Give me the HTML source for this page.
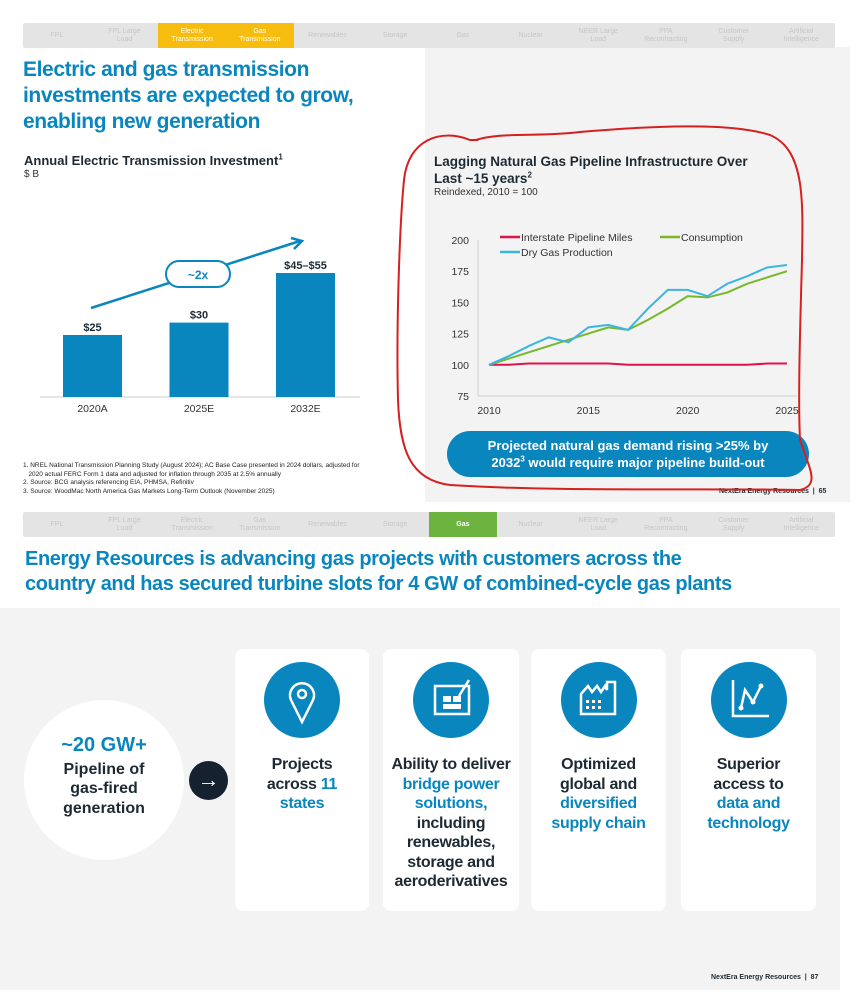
<!DOCTYPE html>
<html><head><meta charset="utf-8">
<style>
body{margin:0;width:859px;height:998px;background:#fff;font-family:"Liberation Sans",sans-serif;position:relative;overflow:hidden}
.abs{position:absolute}
sup{line-height:0}
.nav{position:absolute;left:23px;width:812px;height:25px;background:#e4e4e4;display:flex;border-radius:2px}
.nav div{flex:1;font-size:7px;color:#c6c6c6;text-align:center;display:flex;align-items:center;justify-content:center;line-height:8px}
.h{color:#0a86bf;font-weight:bold;letter-spacing:-0.4px}
.card{position:absolute;top:649px;height:262px;background:#fff;border-radius:8px;text-align:center;font-weight:bold;font-size:16px;line-height:19.5px;color:#1d2a33;letter-spacing:-0.3px}
.card .ic{width:76px;height:76px;border-radius:50%;background:#0a86bf;margin:13px auto 0}
.card p{margin:17px 0 0}
.b{color:#0a86bf}
</style></head><body>
<div class="abs" style="left:425px;top:47px;width:425px;height:455px;background:#f3f3f3"></div>
<div class="nav" style="top:23px">
<div>FPL</div><div>FPL Large<br>Load</div><div style="background:#f6bd0f;color:#fff">Electric<br>Transmission</div><div style="background:#f6bd0f;color:#fff">Gas<br>Transmission</div><div>Renewables</div><div>Storage</div><div>Gas</div><div>Nuclear</div><div>NEER Large<br>Load</div><div>PPA<br>Recontracting</div><div>Customer<br>Supply</div><div>Artificial<br>Intelligence</div>
</div>
<div class="abs h" style="left:23px;top:57px;font-size:21px;line-height:26px">Electric and gas transmission<br>investments are expected to grow,<br>enabling new generation</div>
<div class="abs" style="left:24px;top:153px;font-size:13px;font-weight:bold;color:#1d2a33">Annual Electric Transmission Investment<sup style="font-size:8px">1</sup></div>
<div class="abs" style="left:24px;top:169px;font-size:10px;color:#333">$ B</div>
<svg class="abs" style="left:0;top:0" width="425" height="430" id="bars"></svg>
<div class="abs" style="left:23px;top:462px;font-size:6.5px;line-height:8.5px;color:#222">1. NREL National Transmission Planning Study (August 2024); AC Base Case presented in 2024 dollars, adjusted for<br>&nbsp;&nbsp;&nbsp;2020 actual FERC Form 1 data and adjusted for inflation through 2035 at 2.5% annually<br>2. Source: BCG analysis referencing EIA, PHMSA, Refinitiv<br>3. Source: WoodMac North America Gas Markets Long-Term Outlook (November 2025)</div>
<div class="abs" style="left:434px;top:153px;font-size:13.5px;line-height:17px;font-weight:bold;color:#1d2a33">Lagging Natural Gas Pipeline Infrastructure Over<br>Last ~15 years<sup style="font-size:8px">2</sup></div>
<div class="abs" style="left:434px;top:187px;font-size:10px;color:#333">Reindexed, 2010 = 100</div>
<svg class="abs" style="left:425px;top:200px" width="425" height="230" id="lines"></svg>
<div class="abs" style="left:447px;top:431px;width:362px;height:46px;border-radius:23px;background:#0a86bf;color:#fff;font-weight:bold;font-size:13px;line-height:17px;text-align:center;padding-top:6px;box-sizing:border-box">Projected natural gas demand rising &gt;25% by<br>2032<sup style="font-size:8px">3</sup> would require major pipeline build-out</div>
<div class="abs" style="left:719px;top:488px;font-size:7px;font-weight:bold;color:#1d2a33">NextEra Energy Resources &nbsp;| &nbsp;65</div>
<svg class="abs" style="left:0;top:0" width="859" height="520">
<path d="M476,140 C500,132 540,137 580,132 C650,126 730,122 770,135 C805,150 803,200 802,260 C800,330 798,400 800,440 C810,470 820,485 800,490 C700,488 560,492 450,485 C410,480 400,450 398,400 C396,320 400,220 404,180 C408,140 440,128 470,140 L478,140" fill="none" stroke="#d81f1f" stroke-width="2"/>
</svg>
<div class="nav" style="top:512px">
<div>FPL</div><div>FPL Large<br>Load</div><div>Electric<br>Transmission</div><div>Gas<br>Transmission</div><div>Renewables</div><div>Storage</div><div style="background:#6db33f;color:#fff;font-weight:bold">Gas</div><div>Nuclear</div><div>NEER Large<br>Load</div><div>PPA<br>Recontracting</div><div>Customer<br>Supply</div><div>Artificial<br>Intelligence</div>
</div>
<div class="abs h" style="left:25px;top:547px;font-size:20px;line-height:25px">Energy Resources is advancing gas projects with customers across the<br>country and has secured turbine slots for 4 GW of combined-cycle gas plants</div>
<div class="abs" style="left:0;top:608px;width:840px;height:382px;background:#f3f3f3"></div>
<div class="abs" style="left:24px;top:700px;width:160px;height:160px;border-radius:50%;background:#fff;text-align:center;font-weight:bold;color:#1d2a33;font-size:16px;line-height:19.5px">
<div style="color:#0a86bf;font-size:20px;margin-top:36px">~20 GW+</div><div style="margin-top:4px">Pipeline of<br>gas-fired<br>generation</div></div>
<div class="abs" style="left:189px;top:761px;width:39px;height:39px;border-radius:50%;background:#15212e;color:#fff;font-size:22px;line-height:37px;text-align:center">→</div>
<div class="card" style="left:235px;width:134px"><div class="ic"><svg width="76" height="76"><path d="M38,60 L27,38 A12,12 0 1 1 49,38 Z" fill="none" stroke="#fff" stroke-width="2.5"/><circle cx="38" cy="32" r="4" fill="none" stroke="#fff" stroke-width="2.5"/></svg></div><p>Projects<br>across <span class="b">11<br>states</span></p></div>
<div class="card" style="left:383px;width:136px"><div class="ic"><svg width="76" height="76"><rect x="22" y="24" width="34" height="28" fill="none" stroke="#fff" stroke-width="2.5"/><rect x="30" y="34" width="8" height="6" fill="#fff"/><rect x="40" y="34" width="8" height="6" fill="#fff"/><rect x="30" y="42" width="18" height="5" fill="#fff"/><line x1="46" y1="34" x2="56" y2="18" stroke="#fff" stroke-width="2.5"/></svg></div><p>Ability to deliver<br><span class="b">bridge power<br>solutions,</span><br>including<br>renewables,<br>storage and<br>aeroderivatives</p></div>
<div class="card" style="left:531px;width:135px"><div class="ic"><svg width="76" height="76"><path d="M20,52 L20,32 L27,24 L31,30 L36,24 L40,30 L44,24 L46,28 L46,20 L54,20 L54,52 Z" fill="none" stroke="#fff" stroke-width="2.5"/><g fill="#fff"><rect x="25" y="38" width="3" height="3"/><rect x="31" y="38" width="3" height="3"/><rect x="37" y="38" width="3" height="3"/><rect x="25" y="44" width="3" height="3"/><rect x="31" y="44" width="3" height="3"/><rect x="37" y="44" width="3" height="3"/></g></svg></div><p>Optimized<br>global and<br><span class="b">diversified<br>supply chain</span></p></div>
<div class="card" style="left:681px;width:135px"><div class="ic"><svg width="76" height="76"><path d="M22,18 L22,54 L58,54" fill="none" stroke="#fff" stroke-width="2.5"/><path d="M30,46 L34,28 L42,40 L50,24" fill="none" stroke="#fff" stroke-width="2.5"/><circle cx="30" cy="46" r="2.5" fill="#fff"/><circle cx="42" cy="40" r="2.5" fill="#fff"/><circle cx="50" cy="24" r="2.5" fill="#fff"/></svg></div><p>Superior<br>access to<br><span class="b">data and<br>technology</span></p></div>
<div class="abs" style="left:711px;top:974px;font-size:7px;font-weight:bold;color:#1d2a33">NextEra Energy Resources &nbsp;| &nbsp;87</div>
<script>
// bar chart data
const barCats=["2020A","2025E","2032E"];
const barVals=[25,30,50];
const barLabels=["$25","$30","$45–$55"];
// line chart data
const years=[2010,2011,2012,2013,2014,2015,2016,2017,2018,2019,2020,2021,2022,2023,2024,2025];
const pipeline=[100,100,101,101,101,101,101,100,100,100,100,100,100,100,101,101];
const consumption=[100,105,110,115,120,125,130,128,136,145,155,154,158,165,170,175];
const dryGas=[100,107,115,122,118,130,132,128,145,160,160,155,165,171,178,180];
const yTicks=[75,100,125,150,175,200];
const xTicks=[2010,2015,2020,2025];
const NS="http://www.w3.org/2000/svg";
function mk(svg,tag,attrs,name){const e=document.createElementNS(NS,tag);for(const k in attrs)e.setAttribute(k,attrs[k]);


svg.appendChild(e);return e;}
const bs=document.getElementById('bars');
const base=397,bx0=63,bstep=106.5,bw=59;
const by=v=>base-v*2.48;
mk(bs,'line',{x1:40,y1:base,x2:360,y2:base,stroke:'#ccc','stroke-width':1},'bar-x-axis');
barVals.forEach((v,i)=>{const x=bx0+i*bstep;
mk(bs,'rect',{x:x,y:by(v),width:bw,height:base-by(v),fill:'#0a86bf'},'bar-'+barCats[i]);
const t=mk(bs,'text',{x:x+bw/2,y:by(v)-4,'text-anchor':'middle','font-size':11,'font-weight':'bold',fill:'#1d2a33'},'bar-value-label');t.textContent=barLabels[i];
const c=mk(bs,'text',{x:x+bw/2,y:base+15,'text-anchor':'middle','font-size':10.5,fill:'#333'},'bar-category-label');c.textContent=barCats[i];});
mk(bs,'line',{x1:91,y1:308,x2:300,y2:241,stroke:'#0a86bf','stroke-width':2.5},'growth-arrow');
mk(bs,'path',{d:'M291,238 L302,241 L294,249',fill:'none',stroke:'#0a86bf','stroke-width':2.5},'growth-arrowhead');
mk(bs,'rect',{x:166,y:261,width:64,height:26,rx:13,fill:'#fff',stroke:'#0a86bf','stroke-width':2},'growth-badge');
const g=mk(bs,'text',{x:198,y:279,'text-anchor':'middle','font-size':12,'font-weight':'bold',fill:'#0a86bf'},'growth-badge-text');g.textContent='~2x';
const ls=document.getElementById('lines');
const lx=yr=>64+(yr-2010)*(298/15);
const ly=v=>40+(200-v)*1.248;
mk(ls,'line',{x1:53,y1:ly(200),x2:53,y2:ly(75),stroke:'#ccc'},'y-axis');
mk(ls,'line',{x1:53,y1:ly(75),x2:372,y2:ly(75),stroke:'#ccc'},'x-axis');
yTicks.forEach(v=>{const t=mk(ls,'text',{x:44,y:ly(v)+4,'text-anchor':'end','font-size':10.5,fill:'#333'},'y-tick-label');t.textContent=v;});
xTicks.forEach(v=>{const t=mk(ls,'text',{x:lx(v),y:ly(75)+18,'text-anchor':'middle','font-size':10.5,fill:'#333'},'x-tick-label');t.textContent=v;});
function series(arr,col,name){mk(ls,'polyline',{points:arr.map((v,i)=>lx(years[i])+','+ly(v)).join(' '),fill:'none',stroke:col,'stroke-width':2},name);}
series(pipeline,'#e0124a','line-pipeline');
series(consumption,'#76b82a','line-consumption');
series(dryGas,'#3bb5e4','line-dry-gas');
const leg=[['Interstate Pipeline Miles','#e0124a',75,41],['Consumption','#76b82a',235,41],['Dry Gas Production','#3bb5e4',75,56]];
leg.forEach(l=>{mk(ls,'line',{x1:l[2],y1:l[3]-4,x2:l[2]+20,y2:l[3]-4,stroke:l[1],'stroke-width':2.5},'legend-swatch');
const t=mk(ls,'text',{x:l[2]+21,y:l[3],'font-size':10.5,fill:'#333'},'legend-entry');t.textContent=l[0];});
</script>
</body></html>
